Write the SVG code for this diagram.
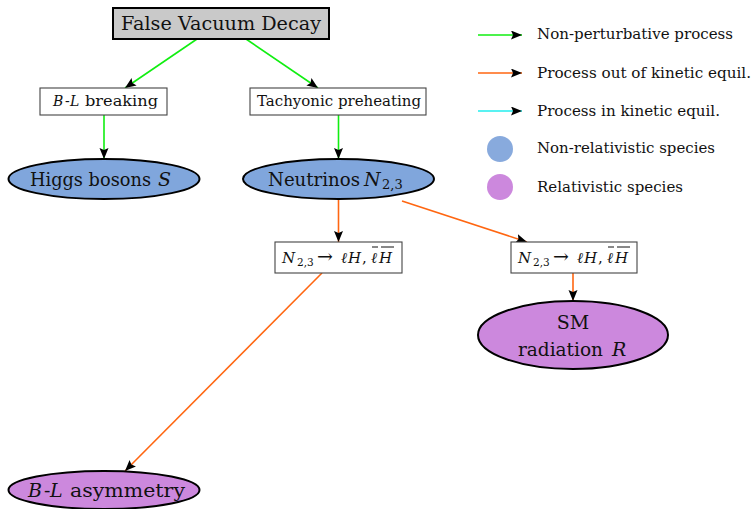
<svg xmlns="http://www.w3.org/2000/svg" width="753" height="509" viewBox="0 0 753 509">
<style>
.i{font-style:italic}
.box{fill:#fff;stroke:#444;stroke-width:1.1}
.blue{fill:#80a6dc;stroke:#000;stroke-width:2}
.purple{fill:#cc88dd;stroke:#000;stroke-width:2}
.g{stroke:#11ee11;stroke-width:1.6;fill:none}
.o{stroke:#ff6611;stroke-width:1.6;fill:none}
.c{stroke:#22eeee;stroke-width:1.6;fill:none}
.bar{stroke:#111;stroke-width:1}
</style>
<defs>
<marker id="ah" markerUnits="userSpaceOnUse" markerWidth="12" markerHeight="10" refX="11" refY="4.5" orient="auto">
<path d="M0,0 L11,4.5 L0,9 L2,4.5 z" fill="#000"/>
</marker>
</defs>
<g id="connectors">
<line class="g" x1="197" y1="39" x2="125" y2="88" marker-end="url(#ah)"/>
<line class="g" x1="246" y1="39" x2="318" y2="88" marker-end="url(#ah)"/>
<line class="g" x1="104" y1="115" x2="104" y2="159" marker-end="url(#ah)"/>
<line class="g" x1="338.5" y1="115" x2="338.5" y2="159" marker-end="url(#ah)"/>
<line class="o" x1="338.5" y1="199" x2="338.5" y2="242" marker-end="url(#ah)"/>
<line class="o" x1="402" y1="201" x2="527" y2="242" marker-end="url(#ah)"/>
<line class="o" x1="573" y1="273" x2="573" y2="301" marker-end="url(#ah)"/>
<line class="o" x1="322" y1="273" x2="125" y2="471" marker-end="url(#ah)"/>
</g>
<g font-family="'DejaVu Serif', serif" fill="#111">
<g id="fvd">
<rect x="113" y="8" width="216" height="31" fill="#c9c9c9" stroke="#000" stroke-width="2"/>
<text x="121" y="30" font-size="19" textLength="200" lengthAdjust="spacingAndGlyphs">False Vacuum Decay</text>
</g>
<g id="bl-breaking">
<rect class="box" x="40" y="88" width="127" height="27"/>
<text y="106" font-size="14"><tspan class="i" x="53">B</tspan><tspan x="65">-</tspan><tspan class="i" x="70">L</tspan><tspan x="85" textLength="73" lengthAdjust="spacingAndGlyphs">breaking</tspan></text>
</g>
<g id="tachyonic">
<rect class="box" x="250" y="88" width="176" height="27"/>
<text x="257" y="106" font-size="14" textLength="164" lengthAdjust="spacingAndGlyphs">Tachyonic preheating</text>
</g>
<g id="higgs">
<ellipse class="blue" cx="104" cy="179" rx="95.5" ry="20"/>
<text y="186" font-size="18.5"><tspan x="30" textLength="121" lengthAdjust="spacingAndGlyphs">Higgs bosons</tspan><tspan class="i" x="158" font-size="19">S</tspan></text>
</g>
<g id="neutrinos">
<ellipse class="blue" cx="338.5" cy="179" rx="95.5" ry="20"/>
<text y="186" font-size="19"><tspan x="268" textLength="92" lengthAdjust="spacingAndGlyphs">Neutrinos</tspan><tspan class="i" x="364">N</tspan><tspan font-size="13" x="382" dy="3">2,3</tspan></text>
</g>
<g id="decay-left">
<rect class="box" x="275" y="242" width="127" height="31"/>
<text y="263" font-size="15"><tspan class="i" x="282">N</tspan><tspan font-size="10.5" x="297" dy="3">2,3</tspan><tspan x="317" dy="-3" font-size="19">→</tspan><tspan class="i" x="341">ℓ</tspan><tspan class="i" x="348">H</tspan><tspan x="362">,</tspan><tspan class="i" x="371">ℓ</tspan><tspan class="i" x="379">H</tspan></text>
<line class="bar" x1="372" y1="247" x2="378" y2="247"/>
<line class="bar" x1="381" y1="247" x2="394" y2="247"/>
</g>
<g id="decay-right">
<rect class="box" x="511" y="242" width="126" height="31"/>
<text y="263" font-size="15"><tspan class="i" x="518">N</tspan><tspan font-size="10.5" x="533" dy="3">2,3</tspan><tspan x="553" dy="-3" font-size="19">→</tspan><tspan class="i" x="577">ℓ</tspan><tspan class="i" x="584">H</tspan><tspan x="598">,</tspan><tspan class="i" x="607">ℓ</tspan><tspan class="i" x="615">H</tspan></text>
<line class="bar" x1="608" y1="247" x2="614" y2="247"/>
<line class="bar" x1="617" y1="247" x2="630" y2="247"/>
</g>
<g id="sm-radiation">
<ellipse class="purple" cx="573" cy="335" rx="95" ry="34" stroke-width="2.4"/>
<text x="573" y="329" font-size="19" text-anchor="middle">SM</text>
<text y="356" font-size="19"><tspan x="518" textLength="85" lengthAdjust="spacingAndGlyphs">radiation</tspan><tspan class="i" x="612">R</tspan></text>
</g>
<g id="bl-asymmetry">
<ellipse class="purple" cx="104" cy="490" rx="95.5" ry="19"/>
<text y="497" font-size="19"><tspan class="i" x="28">B</tspan><tspan x="44">-</tspan><tspan class="i" x="50">L</tspan><tspan x="70" textLength="115" lengthAdjust="spacingAndGlyphs">asymmetry</tspan></text>
</g>
<g id="legend">
<line class="g" x1="478" y1="35" x2="522" y2="35" marker-end="url(#ah)"/>
<line class="o" x1="478" y1="73" x2="522" y2="73" marker-end="url(#ah)"/>
<line class="c" x1="478" y1="111" x2="522" y2="111" marker-end="url(#ah)"/>
<circle cx="500" cy="149" r="13" fill="#88aadd"/>
<circle cx="500" cy="187" r="13" fill="#cc88dd"/>
<text x="537" y="39" font-size="15" textLength="196" lengthAdjust="spacingAndGlyphs">Non-perturbative process</text>
<text x="537" y="78" font-size="15" textLength="214" lengthAdjust="spacingAndGlyphs">Process out of kinetic equil.</text>
<text x="537" y="116" font-size="15" textLength="183" lengthAdjust="spacingAndGlyphs">Process in kinetic equil.</text>
<text x="537" y="153" font-size="15" textLength="178" lengthAdjust="spacingAndGlyphs">Non-relativistic species</text>
<text x="537" y="192" font-size="15" textLength="146" lengthAdjust="spacingAndGlyphs">Relativistic species</text>
</g>
</g>
</svg>
